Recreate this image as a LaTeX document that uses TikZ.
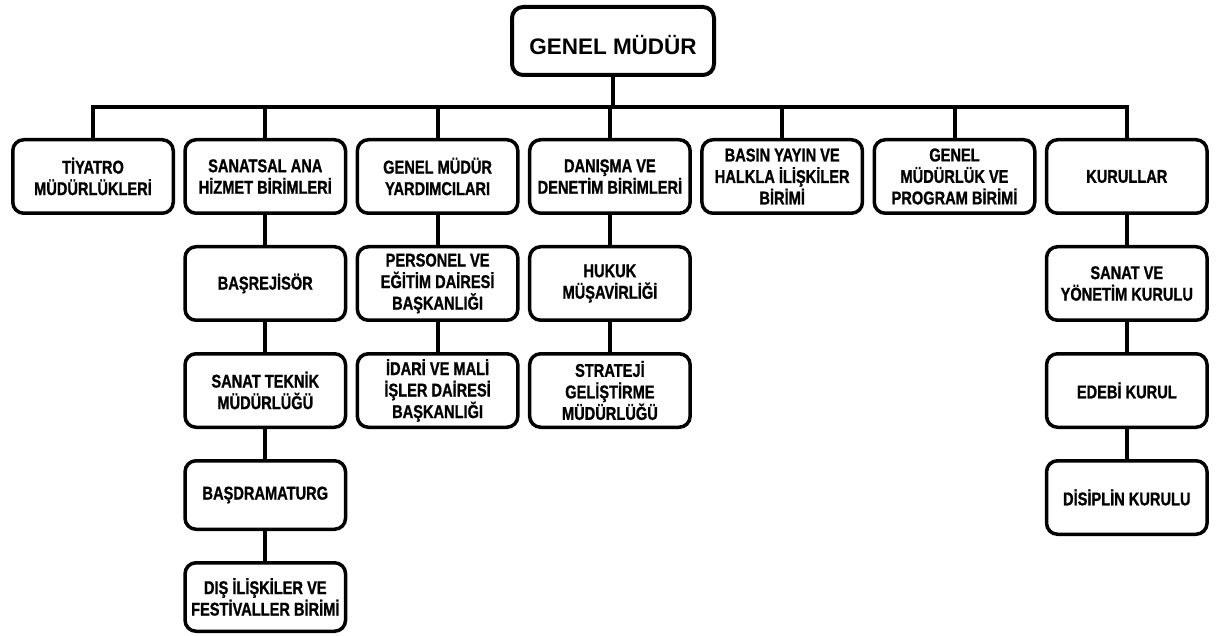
\documentclass[tikz,border=0pt]{standalone}
\usepackage{fontspec}
\newfontfamily\cellfont[FakeStretch=0.79, FakeBold=1]{Liberation Sans}
\usetikzlibrary{positioning}
\tikzset{
x=1pt, y=-1pt, % one unit is one pixel of the chart
node distance=30pt and 8.3pt, % gaps between the boxes
unit/.style={draw, line width=3.5pt, rounded corners=11pt, fill=white,
  minimum width=160.5pt, minimum height=73.5pt, align=center,
  font=\cellfont\bfseries\fontsize{18.5}{21.5}\selectfont}, % every office box
short/.style={minimum height=68.5pt}, % the two low boxes of the second column
chief/.style={unit, line width=4pt, minimum width=202pt, minimum height=68pt,
  text height=27pt, text depth=0pt, font=\fontspec{Liberation Sans}\bfseries\fontsize{22.5}{26}\selectfont},
link/.style={line width=4pt}, % the connecting lines
}
\begin{document}
\begin{tikzpicture}
\useasboundingbox (0,0) rectangle (1221,636);
% top of the chart
\node[chief] (gm) at (613,41) {GENEL MÜDÜR};
% first row
\node[unit] (tiyatro) at (93,176.5) {TİYATRO\\MÜDÜRLÜKLERİ};
\node[unit, right=of tiyatro] (sanatsal) {SANATSAL ANA\\HİZMET BİRİMLERİ};
\node[unit, right=of sanatsal] (yardimci) {GENEL MÜDÜR\\YARDIMCILARI};
\node[unit, right=of yardimci] (danisma) {DANIŞMA VE\\DENETİM BİRİMLERİ};
\node[unit, right=of danisma] (basin) {BASIN YAYIN VE\\HALKLA İLİŞKİLER\\BİRİMİ};
\node[unit, right=of basin] (program) {GENEL\\MÜDÜRLÜK VE\\PROGRAM BİRİMİ};
\node[unit, right=of program] (kurullar) {KURULLAR};
% lower rows
\node[unit, below=of sanatsal] (basrejisor) {BAŞREJİSÖR};
\node[unit, below=of basrejisor] (teknik) {SANAT TEKNİK\\MÜDÜRLÜĞÜ};
\node[unit, short, below=of teknik] (dramaturg) {BAŞDRAMATURG};
\node[unit, short, below=of dramaturg] (disiliski) {DIŞ İLİŞKİLER VE\\FESTİVALLER BİRİMİ};
\node[unit, below=of yardimci] (personel) {PERSONEL VE\\EĞİTİM DAİRESİ\\BAŞKANLIĞI};
\node[unit, below=of personel] (idari) {İDARİ VE MALİ\\İŞLER DAİRESİ\\BAŞKANLIĞI};
\node[unit, below=of danisma] (hukuk) {HUKUK\\MÜŞAVİRLİĞİ};
\node[unit, below=of hukuk] (strateji) {STRATEJİ\\GELİŞTİRME\\MÜDÜRLÜĞÜ};
\node[unit, below=of kurullar] (sanatkurul) {SANAT VE\\YÖNETİM KURULU};
\node[unit, below=of sanatkurul] (edebi) {EDEBİ KURUL};
\node[unit, below=of edebi] (disiplin) {DİSİPLİN KURULU};
% lines
\foreach \b in {tiyatro, sanatsal, yardimci, danisma, basin, program, kurullar}
  \draw[link] (gm.south) -- ++(0,30.5) -| (\b.north);
\foreach \a/\b in {sanatsal/basrejisor, basrejisor/teknik, teknik/dramaturg, dramaturg/disiliski,
  yardimci/personel, personel/idari, danisma/hukuk, hukuk/strateji,
  kurullar/sanatkurul, sanatkurul/edebi, edebi/disiplin}
  \draw[link] (\a.south) -- (\b.north);
\end{tikzpicture}
\end{document}
